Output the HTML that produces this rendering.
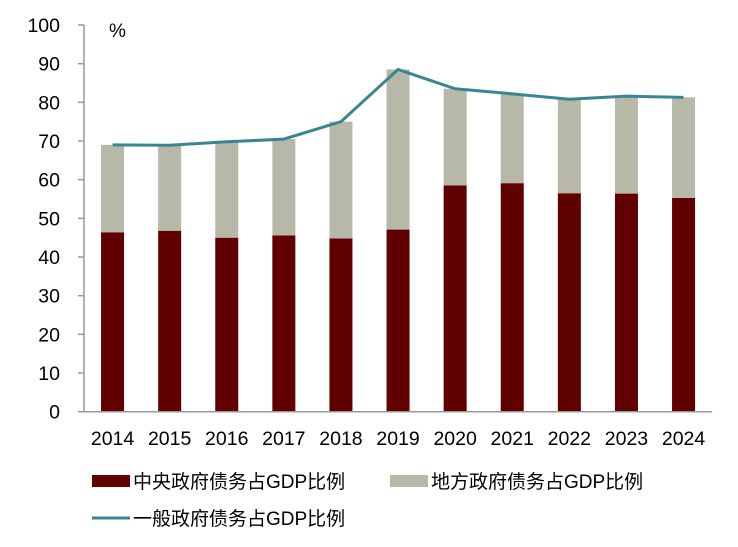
<!DOCTYPE html>
<html><head><meta charset="utf-8"><style>
body{margin:0;background:#fff;font-family:"Liberation Sans","Noto Sans CJK SC",sans-serif}
svg text{font-family:"Liberation Sans","Noto Sans CJK SC",sans-serif}
</style></head><body>
<svg id="c" width="738" height="542"></svg>
<script>
const years=["2014","2015","2016","2017","2018","2019","2020","2021","2022","2023","2024"];
const central=[46.4,46.8,45.0,45.6,44.8,47.1,58.5,59.1,56.5,56.4,55.3];
const local=[22.6,22.1,24.8,24.9,30.2,41.4,25.0,23.1,24.3,25.2,26.0];
const general=[69.0,68.9,69.8,70.5,75.0,88.5,83.5,82.2,80.8,81.6,81.3];
const yTicks=[0,10,20,30,40,50,60,70,80,90,100];
const NS="http://www.w3.org/2000/svg";
const svg=document.getElementById('c');
const x0=84,cw=57.1,y0=411.7,yTop=25;
const y=v=>y0-(y0-yTop)*v/100;
const xc=i=>x0+cw*(i+0.5);
function el(t,a,p){const e=document.createElementNS(NS,t);for(const k in a)e.setAttribute(k,a[k]);(p||svg).appendChild(e);return e;}
let ax=el('line',{x1:x0,y1:yTop,x2:x0,y2:y0,stroke:'#999','stroke-width':1.5});


yTicks.forEach(v=>{
 const t=el('line',{x1:x0-6,y1:y(v),x2:x0,y2:y(v),stroke:'#999','stroke-width':1.5});
 
 
 const l=el('text',{x:x0-24,y:y(v)+7,'text-anchor':'end','font-size':19.5,fill:'#000'});l.textContent=v;
 
 
});
const pct=el('text',{x:109,y:37,'font-size':19});pct.textContent='%';


years.forEach((yr,i)=>{
 const b1=el('rect',{x:xc(i)-11.5,y:y(central[i]),width:23,height:y0-y(central[i]),fill:'#600000'});
 
 
 const b2=el('rect',{x:xc(i)-11.5,y:y(central[i]+local[i]),width:23,height:y(central[i])-y(central[i]+local[i]),fill:'#b8b8a8'});
 
 
 const l=el('text',{x:xc(i),y:445,'text-anchor':'middle','font-size':19.5});l.textContent=yr;
 
 
});
const xa=el('line',{x1:x0,y1:y0,x2:x0+cw*11,y2:y0,stroke:'#999','stroke-width':1.5});


const ln=el('polyline',{points:general.map((v,i)=>xc(i)+','+y(v)).join(' '),fill:'none',stroke:'#3a8594','stroke-width':3});


function leg(x,yy,kind,color,txt,name){
 const g=el('g',{});
 
 
 if(kind==='box')el('rect',{x:x,y:yy-6,width:38,height:12,fill:color},g);
 else el('line',{x1:x,y1:yy,x2:x+38,y2:yy,stroke:color,'stroke-width':3},g);
 const t=el('text',{x:x+41,y:yy+7,'font-size':19},g);t.textContent=txt;
}
leg(92,481,'box','#600000','中央政府债务占GDP比例','legend-central');
leg(390,481,'box','#b8b8a8','地方政府债务占GDP比例','legend-local');
leg(92,518,'line','#3a8594','一般政府债务占GDP比例','legend-general');
</script>
</body></html>
